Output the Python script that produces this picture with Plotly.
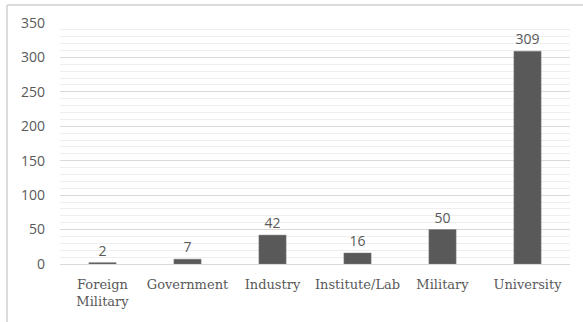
import plotly.graph_objects as go

categories = ["Foreign<br>Military", "Government", "Industry", "Institute/Lab", "Military", "University"]
values = [2, 7, 42, 16, 50, 309]

fig = go.Figure(go.Bar(
    x=categories, y=values,
    marker=dict(color="#595959", line=dict(color="#7f7f7f", width=0.5)),
    width=0.32,
    text=[str(v) for v in values],
    textposition="outside",
    textfont=dict(family="Open Sans", size=14, color="#595959"),
    cliponaxis=False,
))

fig.update_layout(
    width=583, height=322,
    margin=dict(l=60, r=13, t=23, b=58),
    paper_bgcolor="white", plot_bgcolor="white",
    showlegend=False,
    xaxis=dict(
        showgrid=False, showline=True, linecolor="#d9d9d9", linewidth=1,
        tickfont=dict(family="DejaVu Serif", size=13, color="#595959"),
        ticks="", ticklabelstandoff=8,
    ),
    yaxis=dict(
        range=[0, 350], dtick=50, showline=False, zeroline=False,
        gridcolor="#d9d9d9", gridwidth=1,
        tickfont=dict(family="Open Sans", size=14, color="#595959"),
        ticks="", ticklabelstandoff=14,
        minor=dict(dtick=10, showgrid=True, gridcolor="#eeeeee", gridwidth=1),
    ),
    shapes=[
        dict(type="line", xref="paper", yref="paper",
             x0=(7 - 60) / 510, x1=(7 - 60) / 510,
             y0=-(340 - 264) / 241, y1=1 + (23 - 5) / 241,
             line=dict(color="#cfcfcf", width=1.5), layer="above"),
        dict(type="line", xref="paper", yref="paper",
             x0=(7 - 60) / 510, x1=(600 - 60) / 510,
             y0=1 + (23 - 5) / 241, y1=1 + (23 - 5) / 241,
             line=dict(color="#cfcfcf", width=1.5), layer="above"),
    ],
)

fig.write_html("out.html", config={"displayModeBar": False})
